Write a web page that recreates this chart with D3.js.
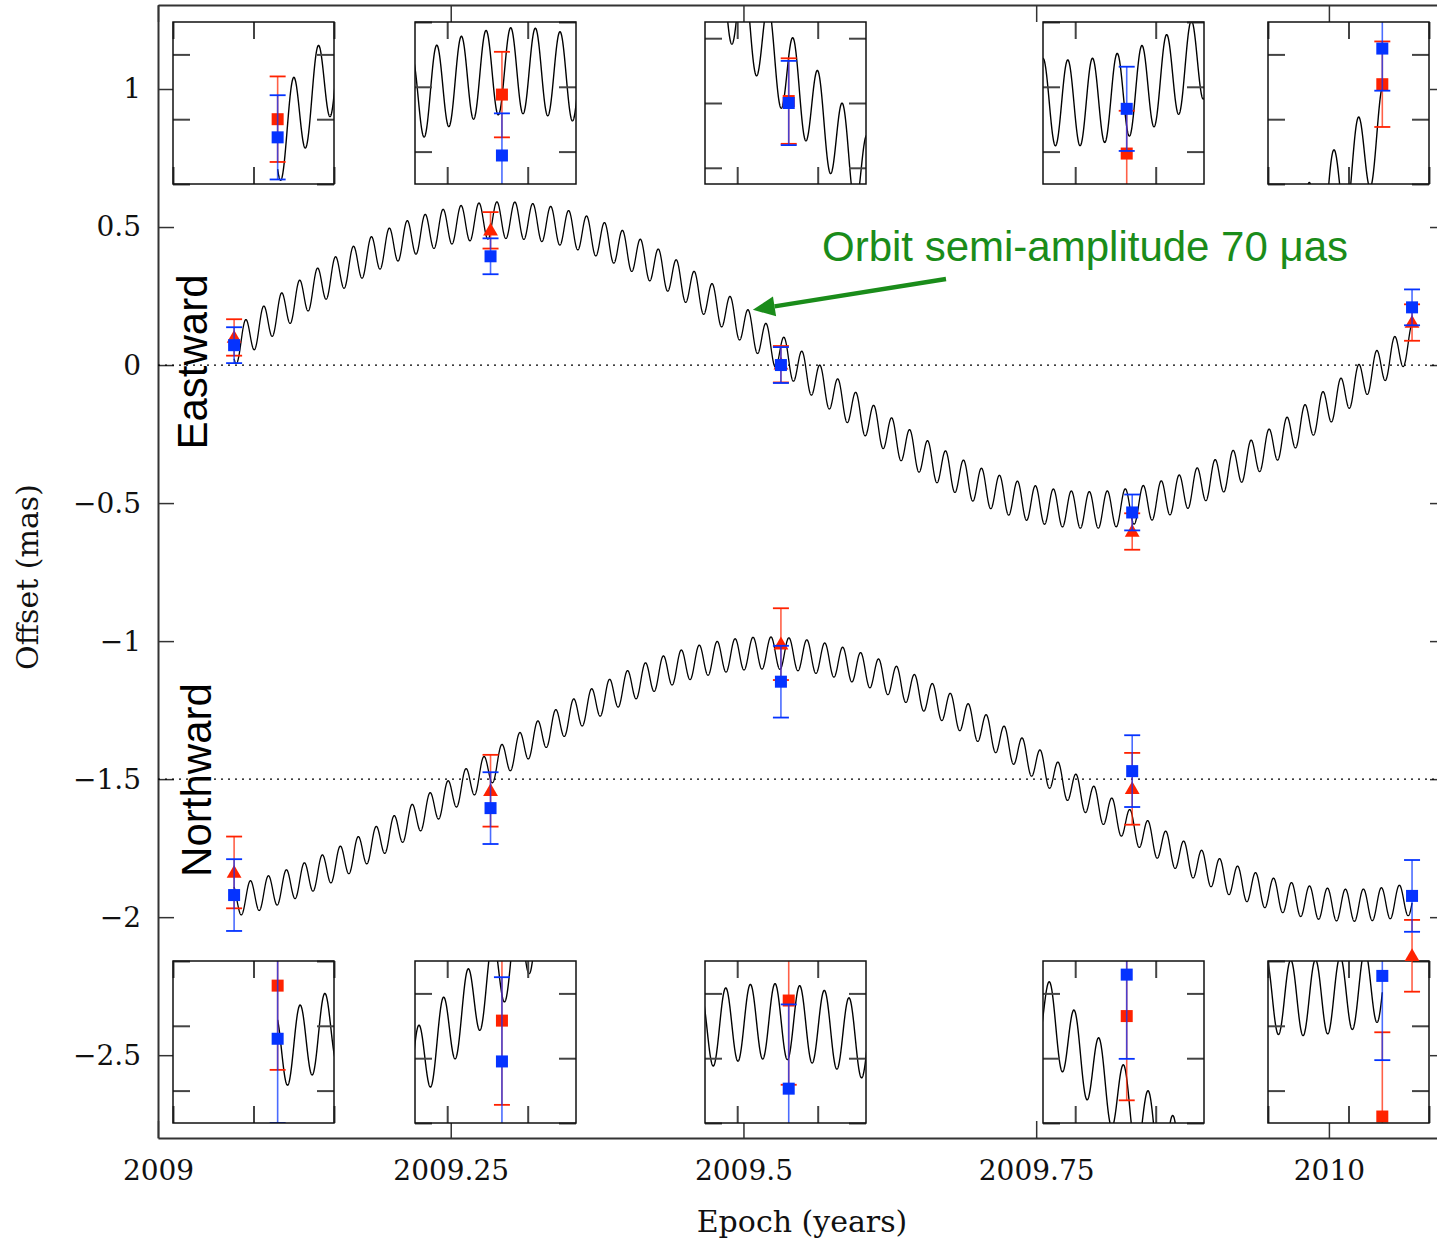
<!DOCTYPE html>
<html>
<head>
<meta charset="utf-8">
<script src="https://cdn.jsdelivr.net/npm/d3@7"></script>
<style>
  body { margin: 0; background: #fff; }
  svg text { font-family: "DejaVu Serif", serif; }
</style>
</head>
<body>
<svg id="chart" width="1437" height="1242"></svg>
<script>
// Step-1 : observed positions and fitted model //

// session epochs (years)
var epochs = [2009.065, 2009.284, 2009.532, 2009.832, 2010.071];

// east / north offsets (mas), two calibrations
var eastRed   = [0.100, 0.488, 0.003, -0.603, 0.154];
var eastBlue  = [0.072, 0.394, 0.000, -0.534, 0.209];
var northRed  = [-1.838, -1.542, -1.011, -1.535, -2.140];
var northBlue = [-1.920, -1.605, -1.147, -1.471, -1.923];

// 1-sigma errors (mas)
var eastRedErr   = [0.066, 0.066, 0.066, 0.066, 0.066];
var eastBlueErr  = [0.065, 0.065, 0.065, 0.065, 0.065];
var northRedErr  = [0.13, 0.13, 0.13, 0.13, 0.13];
var northBlueErr = [0.13, 0.13, 0.13, 0.13, 0.13];

// model: annual parallax + binary orbit  [east, north]
var parallaxAmp     = [0.525, 0.457];
var parallaxPeak    = [2009.295, 2009.52];
var panelOffset     = [0, -1.5];
var orbitPeriodDays = 5.6;
var orbitSemiAmp    = 0.070;
var orbitProjection = [0.95, 0.83];
var orbitPeak       = [2009.2741, 2009.5235];

// axis ticks
var xTicks = [2009, 2009.25, 2009.5, 2009.75, 2010];
var yTicks = [1, 0.5, 0, -0.5, -1, -1.5, -2, -2.5];
var refLines = [0, -1.5];

// zoom windows: epoch range, east range, north range
var zoomEpochs = [[2009.0, 2009.1], [2009.23, 2009.33], [2009.48, 2009.58], [2009.78, 2009.88], [2010.0, 2010.1]];
var zoomEast   = [[0.0, 0.25], [0.35, 0.60], [-0.125, 0.125], [-0.65, -0.40], [0.0, 0.25]];
var zoomNorth  = [[-2.05, -1.80], [-1.70, -1.45], [-1.20, -0.95], [-1.70, -1.45], [-2.15, -1.90]];

// layout
var RED = "#ff2200", BLUE = "#0533ff", GREEN = "#1a8c1a";
var insetLeft = [173, 415, 705, 1043, 1268];
var insetTop = [22, 961];
var insetW = 161, insetH = 162;

var svg = d3.select("#chart");
var plot = { left: 158, top: 5, right: 1446, bottom: 1138 };

var x = d3.scaleLinear().domain([2009, 2010.1]).range([plot.left, plot.right]);
var y = d3.scaleLinear().domain([-2.8, 1.3043]).range([plot.bottom, plot.top]);

var orbitPeriod = orbitPeriodDays / 365.25;

function model(t, k) {
  return panelOffset[k]
    + parallaxAmp[k] * Math.cos(2 * Math.PI * (t - parallaxPeak[k]))
    + orbitSemiAmp * orbitProjection[k] * Math.cos(2 * Math.PI * (t - orbitPeak[k]) / orbitPeriod);
}

var times = d3.range(epochs[0], epochs[epochs.length - 1] + 1e-9, 0.0001);
var curves = [0, 1].map(function (k) {
  return times.map(function (t) { return { t: t, v: model(t, k) }; });
});

var panels = [
  { k: 0, red: eastRed, redErr: eastRedErr, blue: eastBlue, blueErr: eastBlueErr, zoom: zoomEast, top: insetTop[0] },
  { k: 1, red: northRed, redErr: northRedErr, blue: northBlue, blueErr: northBlueErr, zoom: zoomNorth, top: insetTop[1] }
];

// ** main frame and axes ** //

function styleAxis(g) {
  g.selectAll(".domain").attr("stroke", "#333").attr("stroke-width", 2);
  g.selectAll(".tick line").attr("stroke", "#333").attr("stroke-width", 1.5);
  g.selectAll(".tick text").attr("font-family", "DejaVu Serif").attr("font-size", 28).attr("fill", "#111");
}

svg.append("g")
  .attr("transform", "translate(0," + plot.bottom + ")")
  .call(d3.axisBottom(x).tickValues(xTicks).tickSize(-17).tickSizeOuter(0).tickPadding(22)
    .tickFormat(d3.format("")))
  .call(styleAxis);

svg.append("g")
  .attr("transform", "translate(0," + plot.top + ")")
  .call(d3.axisTop(x).tickValues(xTicks).tickSize(-17).tickSizeOuter(0).tickFormat(""))
  .call(styleAxis);

svg.append("g")
  .attr("transform", "translate(" + plot.left + ",0)")
  .call(d3.axisLeft(y).tickValues(yTicks).tickSize(-16).tickSizeOuter(0).tickPadding(17)
    .tickFormat(d3.format("")))
  .call(styleAxis);

svg.append("g")
  .attr("transform", "translate(" + plot.right + ",0)")
  .call(d3.axisRight(y).tickValues(yTicks).tickSize(-16).tickSizeOuter(0).tickFormat(""))
  .call(styleAxis);

svg.selectAll(".axis-text").remove();

// dotted zero lines for each panel
svg.selectAll(".ref")
  .data(refLines)
  .enter().append("line")
  .attr("class", "ref")
  .attr("x1", plot.left).attr("x2", plot.right)
  .attr("y1", d => y(d)).attr("y2", d => y(d))
  .attr("stroke", "#000").attr("stroke-width", 1.2)
  .attr("stroke-dasharray", "2,5");

// model curves
svg.append("clipPath").attr("id", "plot-clip")
  .append("rect")
  .attr("x", plot.left).attr("y", plot.top)
  .attr("width", plot.right - plot.left).attr("height", plot.bottom - plot.top);

var line = d3.line().x(d => x(d.t)).y(d => y(d.v));

svg.append("g").attr("clip-path", "url(#plot-clip)")
  .selectAll("path")
  .data(curves)
  .enter().append("path")
  .attr("d", line)
  .attr("fill", "none")
  .attr("stroke", "#000")
  .attr("stroke-width", 1.3);

// ** zoomed insets ** //

function tickList(lo, hi, step) {
  var out = [];
  for (var k = Math.ceil(lo / step - 1e-6); k <= Math.floor(hi / step + 1e-6); k++) {
    out.push(+(k * step).toFixed(4));
  }
  return out;
}

function drawErrorBars(g, sx, sy, data, color, capHalf) {
  var bars = g.append("g");
  bars.selectAll("line.stem")
    .data(data).enter().append("line")
    .attr("class", "stem")
    .attr("x1", d => sx(d.t)).attr("x2", d => sx(d.t))
    .attr("y1", d => sy(d.v - d.e)).attr("y2", d => sy(d.v + d.e))
    .attr("stroke", color).attr("stroke-width", 1.6).attr("stroke-opacity", 0.72);
  [-1, 1].forEach(function (s) {
    bars.selectAll("line.cap" + (s + 1))
      .data(data).enter().append("line")
      .attr("class", "cap" + (s + 1))
      .attr("x1", d => sx(d.t) - capHalf).attr("x2", d => sx(d.t) + capHalf)
      .attr("y1", d => sy(d.v + s * d.e)).attr("y2", d => sy(d.v + s * d.e))
      .attr("stroke", color).attr("stroke-width", 1.8);
  });
}

function drawSquares(g, sx, sy, data, color, size) {
  g.selectAll(null)
    .data(data).enter().append("rect")
    .attr("x", d => sx(d.t) - size / 2).attr("y", d => sy(d.v) - size / 2)
    .attr("width", size).attr("height", size)
    .attr("fill", color);
}

function points(vals, errs) {
  return epochs.map(function (t, i) { return { t: t, v: vals[i], e: errs[i] }; });
}

panels.forEach(function (p) {
  zoomEpochs.forEach(function (xr, i) {
    var yr = p.zoom[i];
    var ix = d3.scaleLinear().domain(xr).range([0, insetW]);
    var iy = d3.scaleLinear().domain(yr).range([insetH, 0]);
    var id = "inset-" + p.k + "-" + i;

    var g = svg.append("g")
      .attr("transform", "translate(" + insetLeft[i] + "," + p.top + ")");

    g.append("rect")
      .attr("width", insetW).attr("height", insetH)
      .attr("fill", "#fff");

    g.append("clipPath").attr("id", id)
      .append("rect").attr("width", insetW).attr("height", insetH);

    var inner = g.append("g").attr("clip-path", "url(#" + id + ")");

    var seg = curves[p.k].filter(d => d.t >= xr[0] - 0.002 && d.t <= xr[1] + 0.002);
    inner.append("path")
      .attr("d", d3.line().x(d => ix(d.t)).y(d => iy(d.v))(seg))
      .attr("fill", "none").attr("stroke", "#000").attr("stroke-width", 1.4);

    var red = points(p.red, p.redErr).filter(d => d.t >= xr[0] && d.t <= xr[1]);
    var blue = points(p.blue, p.blueErr).filter(d => d.t >= xr[0] && d.t <= xr[1]);
    drawErrorBars(inner, ix, iy, red, RED, 8);
    drawSquares(inner, ix, iy, red, RED, 12);
    drawErrorBars(inner, ix, iy, blue, BLUE, 8);
    drawSquares(inner, ix, iy, blue, BLUE, 12);

    var xt = tickList(xr[0], xr[1], 0.05);
    var yt = tickList(yr[0], yr[1], 0.1);
    var axes = [
      { a: d3.axisBottom(ix).tickValues(xt), tr: "translate(0," + insetH + ")" },
      { a: d3.axisTop(ix).tickValues(xt), tr: "translate(0,0)" },
      { a: d3.axisLeft(iy).tickValues(yt), tr: "translate(0,0)" },
      { a: d3.axisRight(iy).tickValues(yt), tr: "translate(" + insetW + ",0)" }
    ];
    axes.forEach(function (ax) {
      var ga = g.append("g").attr("transform", ax.tr)
        .call(ax.a.tickSize(-17).tickSizeOuter(0).tickFormat(""));
      ga.select(".domain").remove();
      ga.selectAll(".tick line").attr("stroke", "#444").attr("stroke-width", 2);
    });

    g.append("rect")
      .attr("width", insetW).attr("height", insetH)
      .attr("fill", "none").attr("stroke", "#111").attr("stroke-width", 1.5);
  });
});

// ** main data points ** //

var tri = d3.symbol().type(d3.symbolTriangle).size(95);

panels.forEach(function (p) {
  var red = points(p.red, p.redErr);
  var blue = points(p.blue, p.blueErr);
  var g = svg.append("g");

  drawErrorBars(g, x, y, red, RED, 8);
  g.selectAll(null)
    .data(red).enter().append("path")
    .attr("d", tri)
    .attr("transform", d => "translate(" + x(d.t) + "," + (y(d.v) + 1) + ")")
    .attr("fill", RED);

  drawErrorBars(g, x, y, blue, BLUE, 8);
  drawSquares(g, x, y, blue, BLUE, 12);
});

// ** labels ** //

svg.append("text")
  .attr("transform", "translate(207,362) rotate(-90)")
  .attr("text-anchor", "middle")
  .style("font-family", "'Liberation Sans', Arial, sans-serif")
  .attr("font-size", 42)
  .text("Eastward");

svg.append("text")
  .attr("transform", "translate(211,780) rotate(-90)")
  .attr("text-anchor", "middle")
  .style("font-family", "'Liberation Sans', Arial, sans-serif")
  .attr("font-size", 42)
  .text("Northward");

svg.append("text")
  .attr("transform", "translate(38,577) rotate(-90)")
  .attr("text-anchor", "middle")
  .attr("font-size", 30)
  .attr("fill", "#111")
  .text("Offset (mas)");

svg.append("text")
  .attr("x", 802).attr("y", 1232)
  .attr("text-anchor", "middle")
  .attr("font-size", 30)
  .attr("fill", "#111")
  .text("Epoch (years)");

// orbit annotation with arrow
svg.append("text")
  .attr("x", 822).attr("y", 261)
  .style("font-family", "'Liberation Sans', Arial, sans-serif")
  .attr("font-size", 42)
  .attr("fill", GREEN)
  .text("Orbit semi-amplitude 70 \u03bcas");

var tip = [x(2009.508), y(0.2)];
var tail = [946, 279];
var ang = Math.atan2(tail[1] - tip[1], tail[0] - tip[0]);
var headLen = 22, headW = 10;
var base = [tip[0] + headLen * Math.cos(ang), tip[1] + headLen * Math.sin(ang)];

svg.append("line")
  .attr("x1", tail[0]).attr("y1", tail[1])
  .attr("x2", base[0]).attr("y2", base[1])
  .attr("stroke", GREEN).attr("stroke-width", 4.5);

svg.append("path")
  .attr("d", "M" + tip[0] + "," + tip[1]
    + "L" + (base[0] - headW * Math.sin(ang)) + "," + (base[1] + headW * Math.cos(ang))
    + "L" + (base[0] + headW * Math.sin(ang)) + "," + (base[1] - headW * Math.cos(ang)) + "Z")
  .attr("fill", GREEN);
</script>
</body>
</html>
